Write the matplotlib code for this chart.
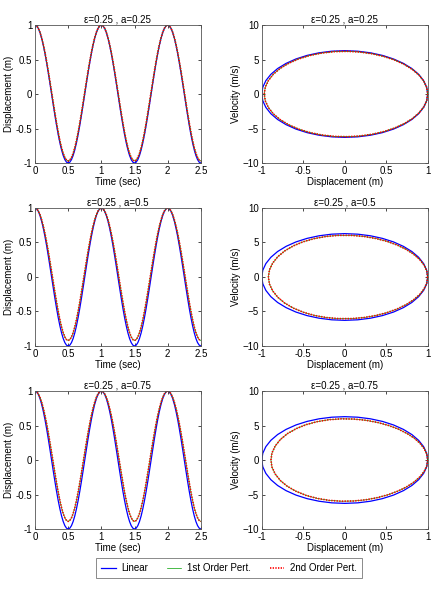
import numpy as np
import matplotlib
matplotlib.use("Agg")
import matplotlib.pyplot as plt

plt.rcParams['font.family'] = ['Liberation Sans', 'DejaVu Sans']
plt.rcParams['font.size'] = 7

# one period (t = 0 ... 1 s, step 0.025 s); curves repeat each second
x_lin = [1.000, 0.988, 0.951, 0.891, 0.809, 0.707, 0.588, 0.454, 0.309, 0.156, 0.000,
         -0.156, -0.309, -0.454, -0.588, -0.707, -0.809, -0.891, -0.951, -0.988, -1.000,
         -0.988, -0.951, -0.891, -0.809, -0.707, -0.588, -0.454, -0.309, -0.156, 0.000,
         0.156, 0.309, 0.454, 0.588, 0.707, 0.809, 0.891, 0.951, 0.988, 1.000]
v_lin = [0.0, -0.980, -1.941, -2.852, -3.694, -4.442, -5.083, -5.598, -5.975, -6.208, -6.283,
         -6.208, -5.975, -5.598, -5.083, -4.442, -3.694, -2.852, -1.941, -0.980, 0.0,
         0.980, 1.941, 2.852, 3.694, 4.442, 5.083, 5.598, 5.975, 6.208, 6.283,
         6.208, 5.975, 5.598, 5.083, 4.442, 3.694, 2.852, 1.941, 0.980, 0.0]

# a = 0.25
x_p1 = [1.000, 0.989, 0.953, 0.896, 0.817, 0.719, 0.604, 0.474, 0.333, 0.183, 0.030,
        -0.124, -0.276, -0.420, -0.554, -0.674, -0.777, -0.860, -0.920, -0.958, -0.970,
        -0.958, -0.920, -0.860, -0.777, -0.674, -0.554, -0.420, -0.276, -0.124, 0.030,
        0.183, 0.333, 0.474, 0.604, 0.719, 0.817, 0.896, 0.953, 0.989, 1.000]
v_p1 = [0.0, -0.936, -1.857, -2.733, -3.549, -4.281, -4.917, -5.438, -5.830, -6.086, -6.189,
        -6.144, -5.941, -5.590, -5.096, -4.470, -3.728, -2.885, -1.967, -0.994, 0.0,
        0.994, 1.967, 2.885, 3.728, 4.470, 5.096, 5.590, 5.941, 6.144, 6.189,
        6.086, 5.830, 5.438, 4.917, 4.281, 3.549, 2.733, 1.857, 0.936, 0.0]

# a = 0.5
x_p2 = [1.000, 0.989, 0.957, 0.904, 0.830, 0.739, 0.631, 0.508, 0.373, 0.229, 0.080,
        -0.071, -0.220, -0.364, -0.498, -0.619, -0.723, -0.807, -0.869, -0.908, -0.920,
        -0.908, -0.869, -0.807, -0.723, -0.619, -0.498, -0.364, -0.220, -0.071, 0.080,
        0.229, 0.373, 0.508, 0.631, 0.739, 0.830, 0.904, 0.957, 0.989, 1.000]
v_p2 = [0.0, -0.863, -1.716, -2.535, -3.307, -4.013, -4.641, -5.171, -5.588, -5.882, -6.032,
        -6.037, -5.884, -5.577, -5.119, -4.516, -3.785, -2.941, -2.011, -1.018, 0.0,
        1.018, 2.011, 2.941, 3.785, 4.516, 5.119, 5.577, 5.884, 6.037, 6.032,
        5.882, 5.588, 5.171, 4.641, 4.013, 3.307, 2.535, 1.716, 0.863, 0.0]

# a = 0.75
x_p3 = [1.000, 0.990, 0.959, 0.908, 0.839, 0.751, 0.647, 0.528, 0.397, 0.256, 0.110,
        -0.039, -0.187, -0.330, -0.465, -0.586, -0.691, -0.776, -0.838, -0.877, -0.890,
        -0.877, -0.838, -0.776, -0.691, -0.586, -0.465, -0.330, -0.187, -0.039, 0.110,
        0.256, 0.397, 0.528, 0.647, 0.751, 0.839, 0.908, 0.959, 0.990, 1.000]
v_p3 = [0.0, -0.820, -1.631, -2.416, -3.162, -3.852, -4.475, -5.011, -5.443, -5.760, -5.937,
        -5.973, -5.850, -5.569, -5.132, -4.543, -3.820, -2.975, -2.037, -1.033, 0.0,
        1.033, 2.037, 2.975, 3.820, 4.543, 5.132, 5.569, 5.850, 5.973, 5.937,
        5.760, 5.443, 5.011, 4.475, 3.852, 3.162, 2.416, 1.631, 0.820, 0.0]

a_vals = ['0.25', '0.5', '0.75']
# 1st and 2nd order curves cannot be told apart in the picture
x_first = [x_p1, x_p2, x_p3]
v_first = [v_p1, v_p2, v_p3]
x_second = [x_p1, x_p2, x_p3]
v_second = [v_p1, v_p2, v_p3]


def over_time(period):
    # 2.5 s shown: two full periods plus half a period
    p = list(period)
    return np.array(p + p[1:] + p[1:21])


t = np.arange(101) * 0.025

fig = plt.figure(figsize=(4.32, 5.96), dpi=100)
bottoms = [0.7265, 0.4195, 0.1124]
h = 0.2315
frame = '#555555'
dots = (0, (0.8, 0.8))


def style(ax):
    ax.tick_params(direction='in', length=2.5, width=0.5, top=True, right=True,
                   labelsize=7, pad=2, colors='black')
    for s in ax.spines.values():
        s.set_linewidth(0.6)
        s.set_color(frame)


for i in range(3):
    title = '\u03b5=0.25 , a=' + a_vals[i]

    ax = fig.add_axes([0.081, bottoms[i], 0.384, h])
    lin, = ax.plot(t, over_time(x_lin), color='#0000ff', lw=0.9)
    fo, = ax.plot(t, over_time(x_first[i]), color='#00a000', lw=0.5)
    so, = ax.plot(t, over_time(x_second[i]), color='#ff0000', lw=1.2, ls=dots)
    ax.set_xlim(0, 2.5)
    ax.set_ylim(-1, 1)
    ax.set_xticks([0, 0.5, 1, 1.5, 2, 2.5])
    ax.set_xticklabels(['0', '0.5', '1', '1.5', '2', '2.5'])
    ax.set_yticks([-1, -0.5, 0, 0.5, 1])
    ax.set_yticklabels(['-1', '-0.5', '0', '0.5', '1'])
    ax.set_xlabel('Time (sec)', labelpad=1)
    ax.set_ylabel('Displacement (m)', labelpad=1)
    ax.set_title(title, fontsize=7, pad=2)
    style(ax)

    ax2 = fig.add_axes([0.606, bottoms[i], 0.384, h])
    ax2.plot(x_lin, v_lin, color='#0000ff', lw=0.9)
    ax2.plot(x_first[i], v_first[i], color='#00a000', lw=0.5)
    ax2.plot(x_second[i], v_second[i], color='#ff0000', lw=1.2, ls=dots)
    ax2.set_xlim(-1, 1)
    ax2.set_ylim(-10, 10)
    ax2.set_xticks([-1, -0.5, 0, 0.5, 1])
    ax2.set_xticklabels(['-1', '-0.5', '0', '0.5', '1'])
    ax2.set_yticks([-10, -5, 0, 5, 10])
    ax2.set_xlabel('Displacement (m)', labelpad=1)
    ax2.set_ylabel('Velocity (m/s)', labelpad=1)
    ax2.set_title(title, fontsize=7, pad=2)
    style(ax2)

leg = fig.legend([lin, fo, so], ['Linear', '1st Order Pert.', '2nd Order Pert.'],
                 loc='center', bbox_to_anchor=(0.53, 0.047), ncol=3, fontsize=7,
                 frameon=True, fancybox=False, handlelength=1.5, columnspacing=1.9,
                 borderpad=0.5, handletextpad=0.6)
leg.get_frame().set_edgecolor(frame)
leg.get_frame().set_linewidth(0.6)

fig.savefig('out.png', dpi=100)
